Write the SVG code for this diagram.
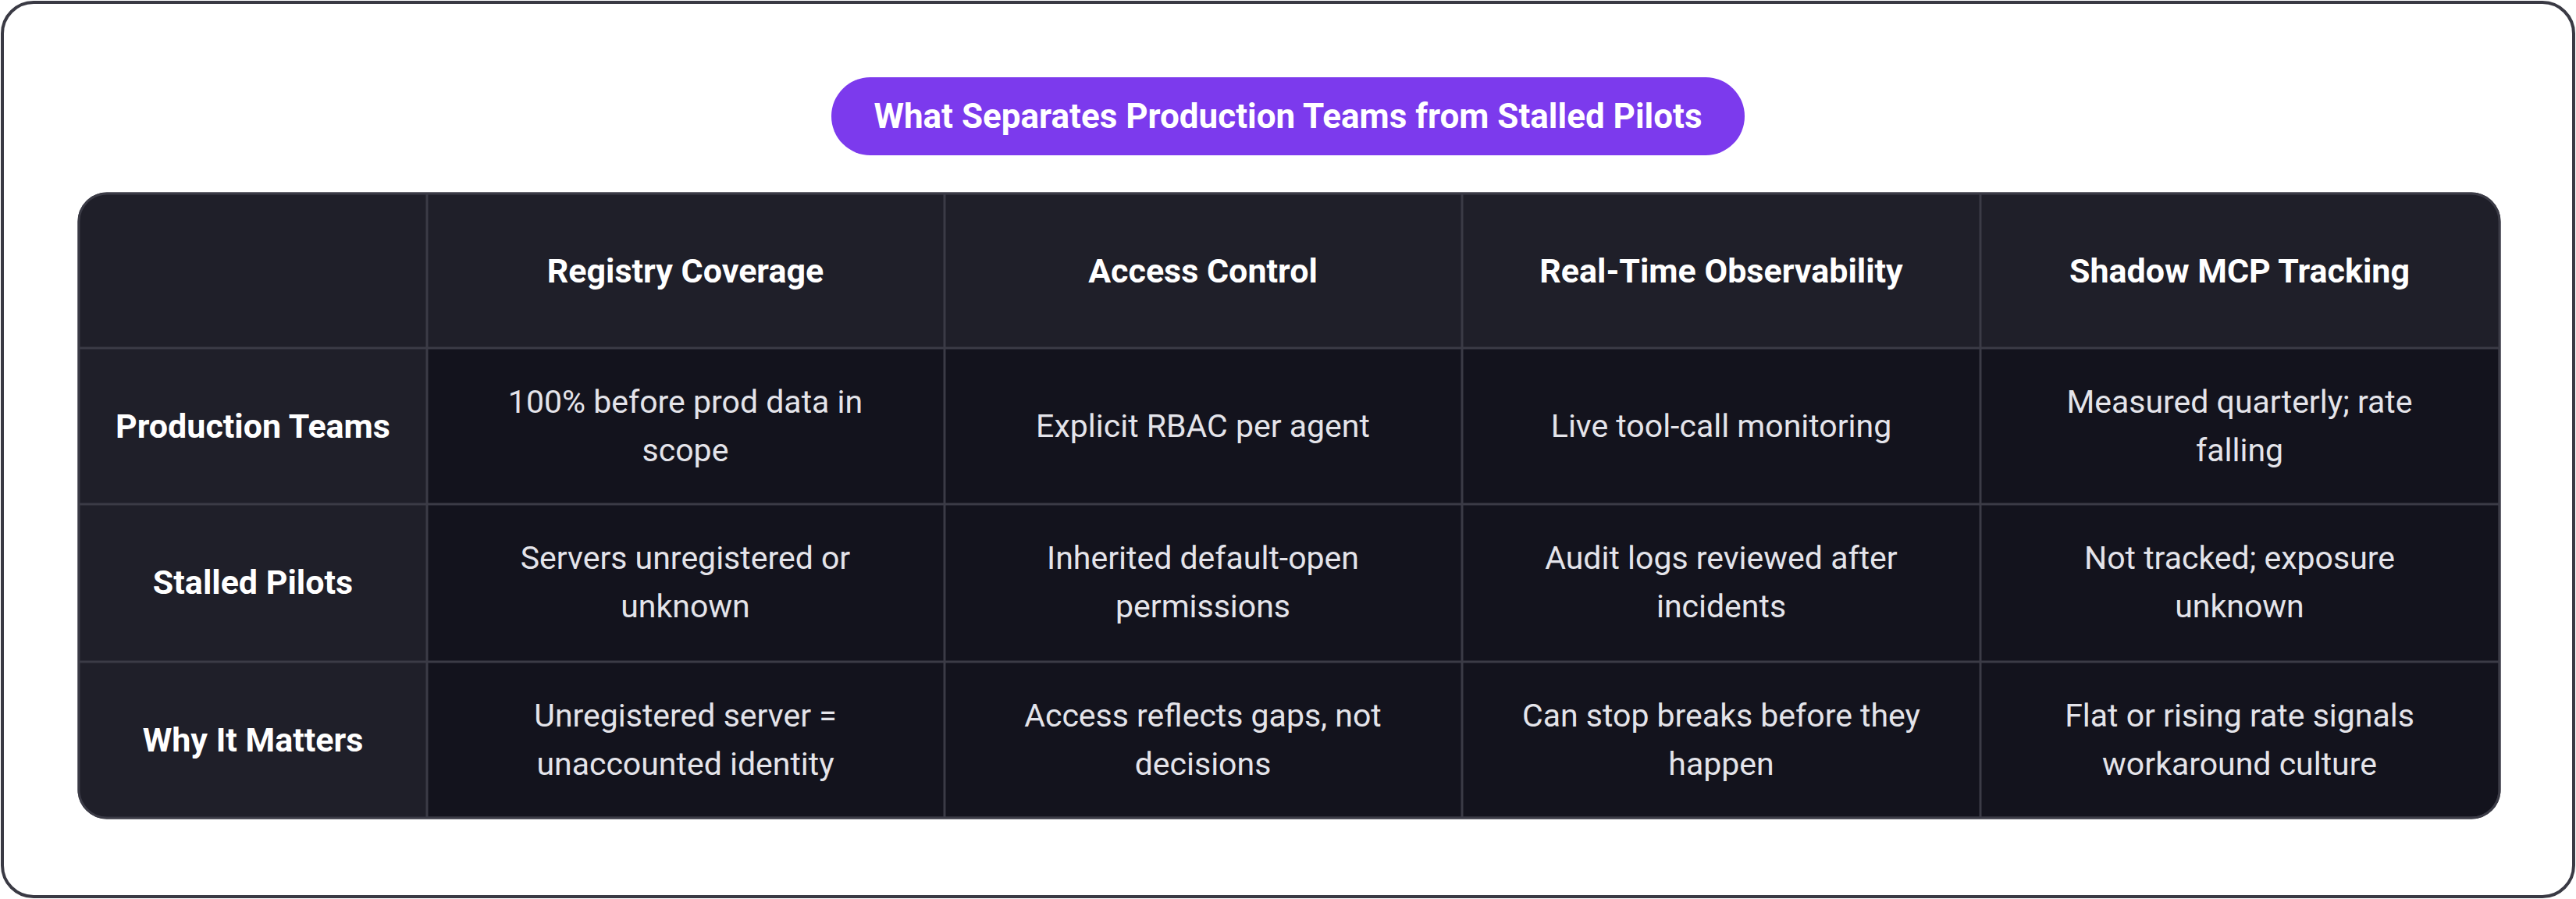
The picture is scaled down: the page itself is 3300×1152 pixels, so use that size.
<svg xmlns="http://www.w3.org/2000/svg" width="3300" height="1152" viewBox="0 0 3300 1152">
<style>
text{font-family:Roboto,"Liberation Sans",sans-serif;text-anchor:middle}
.h{font-size:43px;font-weight:700;fill:#ffffff}
.b{font-size:41px;fill:#e4e4ea}
.t{font-size:44px;font-weight:700;fill:#ffffff}
.g{stroke:#3b3b46;stroke-width:3}
</style>
<rect x="3" y="3" width="3294" height="1146" rx="40" fill="#ffffff" stroke="#3a3a44" stroke-width="4"/>
<g id="title"><rect x="1065" y="99" width="1170" height="100" rx="50" fill="#7c3aed"/><text class="t" x="1650" y="164">What Separates Production Teams from Stalled Pilots</text></g>
<g id="table">
<rect x="101" y="248" width="3101" height="800" rx="36" fill="#13131d" stroke="#3b3b46" stroke-width="3"/>
<path d="M101,446 V284 a36,36 0 0 1 36,-36 H3166 a36,36 0 0 1 36,36 V446 Z" fill="#1f1f29"/>
<path d="M101,446 H547 V1048 H137 a36,36 0 0 1 -36,-36 Z" fill="#1f1f29"/>
<g class="g"><path d="M547,248V1048M1210,248V1048M1873,248V1048M2537,248V1048M101,446H3202M101,646H3202M101,848H3202"/></g>
<rect x="101" y="248" width="3101" height="800" rx="36" fill="none" stroke="#3b3b46" stroke-width="3"/>
</g>
<g id="header">
<text class="h" x="878" y="362">Registry Coverage</text>
<text class="h" x="1541" y="362">Access Control</text>
<text class="h" x="2205" y="362">Real-Time Observability</text>
<text class="h" x="2869" y="362">Shadow MCP Tracking</text>
</g>
<g id="row1">
<text class="h" x="324" y="561">Production Teams</text>
<text class="b" x="878" y="529">100% before prod data in</text><text class="b" x="878" y="591">scope</text>
<text class="b" x="1541" y="560">Explicit RBAC per agent</text>
<text class="b" x="2205" y="560">Live tool-call monitoring</text>
<text class="b" x="2869" y="529">Measured quarterly; rate</text><text class="b" x="2869" y="591">falling</text>
</g>
<g id="row2">
<text class="h" x="324" y="761">Stalled Pilots</text>
<text class="b" x="878" y="729">Servers unregistered or</text><text class="b" x="878" y="791">unknown</text>
<text class="b" x="1541" y="729">Inherited default-open</text><text class="b" x="1541" y="791">permissions</text>
<text class="b" x="2205" y="729">Audit logs reviewed after</text><text class="b" x="2205" y="791">incidents</text>
<text class="b" x="2869" y="729">Not tracked; exposure</text><text class="b" x="2869" y="791">unknown</text>
</g>
<g id="row3">
<text class="h" x="324" y="963">Why It Matters</text>
<text class="b" x="878" y="931">Unregistered server =</text><text class="b" x="878" y="993">unaccounted identity</text>
<text class="b" x="1541" y="931">Access reflects gaps, not</text><text class="b" x="1541" y="993">decisions</text>
<text class="b" x="2205" y="931">Can stop breaks before they</text><text class="b" x="2205" y="993">happen</text>
<text class="b" x="2869" y="931">Flat or rising rate signals</text><text class="b" x="2869" y="993">workaround culture</text>
</g>
</svg>
